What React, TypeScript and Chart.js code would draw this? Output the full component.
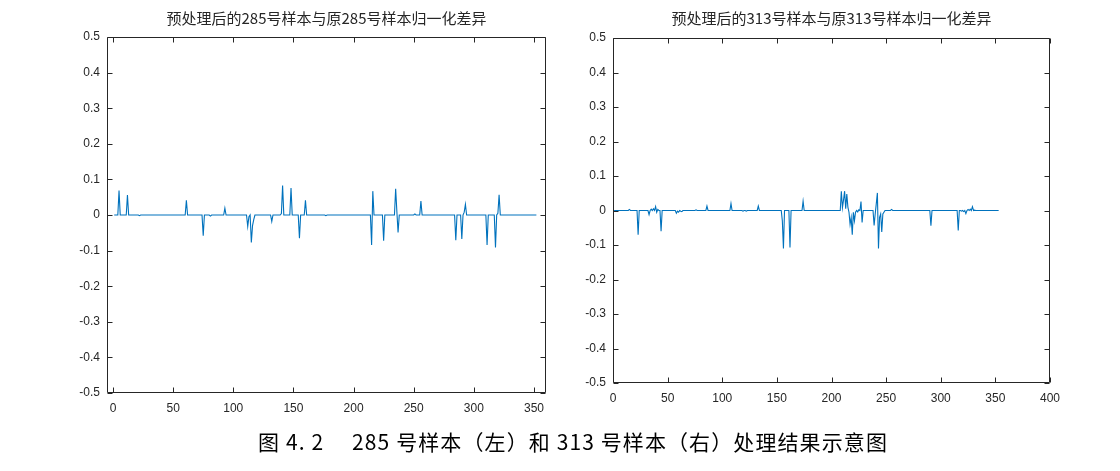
import React, { useEffect, useRef } from "react";
import { Chart, registerables } from "chart.js";

Chart.register(...registerables);

// ---------- data ----------
const leftTitle = "预处理后的285号样本与原285号样本归一化差异";
const rightTitle = "预处理后的313号样本与原313号样本归一化差异";
const caption = "图 4. 2\u3000 285 号样本（左）和 313 号样本（右）处理结果示意图";

const leftCount = 352;
const leftSpikeX = [5, 12, 22, 61, 75, 81, 93, 112, 113, 115, 116, 117, 132, 140, 141, 148, 155, 160, 177, 215, 216, 225, 235, 236, 237, 251, 256, 285, 290, 292, 293, 311, 318, 320, 321];
const leftSpikeY = [0.069, 0.056, -0.002, 0.041, -0.058, -0.003, 0.019, -0.032, -0.005, -0.077, -0.03, -0.013, -0.018, 0.004, 0.083, 0.076, -0.065, 0.041, -0.002, -0.084, 0.067, -0.072, 0.074, 0.01, -0.049, 0.003, 0.039, -0.071, -0.067, 0.008, 0.03, -0.084, -0.091, 0.005, 0.057];

const rightCount = 353;
const rightSpikeX = [15, 23, 33, 35, 37, 39, 40, 41, 44, 58, 59, 60, 62, 63, 76, 86, 108, 119, 122, 133, 155, 156, 162, 174, 209, 210, 211, 212, 213, 214, 215, 216, 217, 218, 219, 220, 221, 222, 224, 225, 227, 228, 239, 240, 241, 242, 243, 244, 245, 246, 247, 248, 255, 291, 316, 319, 321, 323, 325, 327, 329, 331];
const rightSpikeY = [0.003, -0.07, -0.012, 0.004, 0.005, 0.011, -0.005, 0.003, -0.06, -0.008, -0.002, -0.005, -0.002, -0.003, 0.002, 0.013, 0.02, -0.002, -0.002, 0.013, -0.03, -0.11, -0.107, 0.027, 0.056, 0.008, 0.03, 0.056, 0.005, 0.048, 0.01, -0.005, -0.04, -0.02, -0.07, -0.005, -0.03, -0.005, -0.004, 0.002, 0.026, -0.035, -0.043, -0.01, 0.02, 0.051, -0.11, -0.02, -0.01, -0.062, -0.01, -0.005, 0.003, -0.044, -0.058, -0.002, -0.003, -0.009, 0.003, 0.004, 0.011, 0.001];

const leftXTicks = [0, 50, 100, 150, 200, 250, 300, 350];
const rightXTicks = [0, 50, 100, 150, 200, 250, 300, 350, 400];
const yTicks = [-0.5, -0.4, -0.3, -0.2, -0.1, 0, 0.1, 0.2, 0.3, 0.4, 0.5];
const yTickLabels = ["-0.5", "-0.4", "-0.3", "-0.2", "-0.1", "0", "0.1", "0.2", "0.3", "0.4", "0.5"];

function buildSeries(count: number, sx: number[], sy: number[]) {
  const pts: { x: number; y: number }[] = [];
  for (let i = 1; i <= count; i++) {
    const k = sx.indexOf(i);
    pts.push({ x: i, y: k >= 0 ? sy[k] : 0 });
  }
  return pts;
}

const AXIS_COLOR = "#262626";
const LINE_COLOR = "#0072BD";
const TICK_FONT = { family: "'Liberation Sans', Arial, sans-serif", size: 12 };

const boxPlugin = {
  id: "matlabBox",
  afterDraw(chart: any, _args: any, opts: any) {
    const { ctx, chartArea: a, scales } = chart;
    const L = Math.round(a.left) + 0.5;
    const R = Math.round(a.right) - 0.5;
    const T = Math.round(a.top) + 0.5;
    const B = Math.round(a.bottom) - 0.5;
    const tl = 5;
    ctx.save();
    ctx.strokeStyle = AXIS_COLOR;
    ctx.lineWidth = 1;
    ctx.beginPath();
    ctx.rect(L, T, R - L, B - T);
    scales.x.ticks.forEach((t: any) => {
      const p = Math.round(scales.x.getPixelForValue(t.value)) + 0.5;
      ctx.moveTo(p, B);
      ctx.lineTo(p, B - tl);
      ctx.moveTo(p, T);
      ctx.lineTo(p, T + tl);
    });
    scales.y.ticks.forEach((t: any) => {
      const p = Math.round(scales.y.getPixelForValue(t.value)) + 0.5;
      ctx.moveTo(L, p);
      ctx.lineTo(L + tl, p);
      ctx.moveTo(R, p);
      ctx.lineTo(R - tl, p);
    });
    ctx.stroke();
    ctx.fillStyle = AXIS_COLOR;
    ctx.font = "15px 'Noto Sans CJK SC', sans-serif";
    ctx.textAlign = "center";
    ctx.textBaseline = "middle";
    ctx.fillText(opts.text, (a.left + a.right) / 2, opts.y);
    ctx.restore();
  },
};

type PanelProps = {
  count: number;
  sx: number[];
  sy: number[];
  xMin: number;
  xMax: number;
  xTicks: number[];
  title: string;
  yAxisWidth: number;
  xAxisHeight: number;
  padTop: number;
  padRight: number;
  left: number;
};

function Panel(p: PanelProps) {
  const ref = useRef<HTMLCanvasElement>(null);
  useEffect(() => {
    if (!ref.current) return;
    const chart = new Chart(ref.current, {
      type: "line",
      data: {
        datasets: [
          {
            data: buildSeries(p.count, p.sx, p.sy),
            borderColor: LINE_COLOR,
            borderWidth: 1.1,
            pointRadius: 0,
            tension: 0,
            fill: false,
          },
        ],
      },
      options: {
        responsive: false,
        animation: false,
        layout: { padding: { top: p.padTop, right: p.padRight, left: 0, bottom: 0 } },
        plugins: {
          legend: { display: false },
          tooltip: { enabled: false },
          title: { display: false },
          matlabBox: { text: p.title, y: 18 },
        } as any,
        scales: {
          x: {
            type: "linear",
            min: p.xMin,
            max: p.xMax,
            grid: { display: false, drawTicks: false },
            border: { display: false },
            afterBuildTicks: (s: any) => {
              s.ticks = p.xTicks.map((v) => ({ value: v }));
            },
            afterFit: (s: any) => {
              s.height = p.xAxisHeight;
            },
            ticks: {
              color: AXIS_COLOR,
              font: TICK_FONT,
              padding: 8,
              maxRotation: 0,
              autoSkip: false,
              callback: (v: any) => String(v),
            },
          },
          y: {
            type: "linear",
            min: -0.5,
            max: 0.5,
            grid: { display: false, drawTicks: false },
            border: { display: false },
            afterBuildTicks: (s: any) => {
              s.ticks = yTicks.map((v) => ({ value: v }));
            },
            afterFit: (s: any) => {
              s.width = p.yAxisWidth;
            },
            ticks: {
              color: AXIS_COLOR,
              font: TICK_FONT,
              padding: 7,
              autoSkip: false,
              callback: (v: any) => {
                const k = yTicks.findIndex((t) => Math.abs(t - Number(v)) < 1e-6);
                return k >= 0 ? yTickLabels[k] : "";
              },
            },
          },
        },
      },
      plugins: [boxPlugin as any],
    });
    return () => chart.destroy();
  }, []);
  return (
    <canvas
      ref={ref}
      width={560}
      height={430}
      style={{ position: "absolute", left: p.left, top: 0, width: 560, height: 430, display: "block" }}
    />
  );
}

export default function App() {
  return (
    <div
      style={{
        position: "fixed",
        left: 0,
        top: 0,
        width: 1120,
        height: 471,
        background: "#ffffff",
        overflow: "hidden",
      }}
    >
      <Panel
        count={leftCount}
        sx={leftSpikeX}
        sy={leftSpikeY}
        xMin={-5}
        xMax={360}
        xTicks={leftXTicks}
        title={leftTitle}
        yAxisWidth={107}
        xAxisHeight={37}
        padTop={37}
        padRight={14}
        left={0}
      />
      <Panel
        count={rightCount}
        sx={rightSpikeX}
        sy={rightSpikeY}
        xMin={0}
        xMax={400}
        xTicks={rightXTicks}
        title={rightTitle}
        yAxisWidth={53}
        xAxisHeight={47}
        padTop={38}
        padRight={70}
        left={560}
      />
      <div
        style={{
          position: "absolute",
          left: 258,
          top: 430,
          fontFamily: "'Noto Sans CJK SC', sans-serif",
          fontSize: 21,
          letterSpacing: "1.1px",
          lineHeight: "22px",
          color: "#000",
          whiteSpace: "pre",
        }}
      >
        {caption}
      </div>
    </div>
  );
}
